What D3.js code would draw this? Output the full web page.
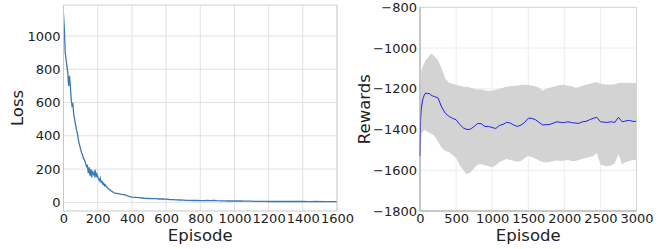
<!DOCTYPE html>
<html><head><meta charset="utf-8">
<script src="https://cdn.jsdelivr.net/npm/d3@7"></script>
<style>body{margin:0;background:#fff}svg{display:block}text{font-family:"DejaVu Sans",sans-serif;fill:#222}</style>
</head><body><svg id="c" width="667" height="249"></svg>
<script>
const lossEpisodes = [0,5,10,15,20,25,30,35,40,45,50,55,60,65,70,75,80,85,90,95,100,105,110,115,120,125,130,135,140,145,150,155,160,165,170,175,180,185,190,195,200,205,210,215,220,225,230,235,240,245,250,255,260,265,270,275,280,285,290,295,300,
 320,340,360,380,400,420,440,460,480,500,520,540,560,580,600,620,640,660,680,700,720,740,760,780,800,820,840,860,880,900,920,940,960,980,1000,1020,1040,1060,1080,1100,1120,1140,1160,1180,1200,1240,1280,1320,1360,1400,1440,1480,1520,1560,1600];
const lossValues = [1130,1040,900,860,820,780,700,760,700,620,580,590,530,500,470,440,420,390,360,340,320,300,290,270,260,250,230,215,220,175,210,160,200,150,190,170,160,195,150,170,155,140,130,145,120,125,110,115,100,105,95,90,85,80,75,72,68,64,62,58,55,
 52,48,45,38,32,30,28,26,24,23,22,22,20,20,19,17,16,15,14,13,12,12,11,11,10,10,11,10,12,10,9,9,8,8,8,8,9,7,7,7,6,6,6,6,5,5,6,5,5,5,4,5,4,4,4];
const lossXTicks = [0,200,400,600,800,1000,1200,1400,1600];
const lossYTicks = [0,200,400,600,800,1000];

const rewardEpisodes = [0,5,10,20,40,60,80,100,125,150,175,200,250,300,350,400,450,500,550,600,650,700,750,800,850,900,950,1000,1050,1100,1150,1200,1250,1300,1350,1400,1450,1500,1550,1600,1650,1700,1750,1800,1850,1900,1950,2000,2050,2100,2150,2200,2250,2300,2350,2400,2450,2500,2550,2600,2650,2700,2750,2800,2850,2900,2950,3000];
const rewardMean = [-1530,-1420,-1340,-1290,-1250,-1230,-1220,-1225,-1222,-1230,-1235,-1238,-1245,-1290,-1320,-1335,-1345,-1352,-1375,-1392,-1400,-1398,-1385,-1370,-1372,-1385,-1385,-1390,-1395,-1380,-1375,-1365,-1368,-1378,-1385,-1378,-1365,-1345,-1345,-1352,-1365,-1378,-1376,-1375,-1368,-1362,-1365,-1366,-1362,-1366,-1368,-1370,-1362,-1360,-1352,-1345,-1340,-1362,-1364,-1365,-1362,-1365,-1340,-1362,-1358,-1355,-1360,-1360];
const rewardUpper = [-1700,-1400,-1200,-1110,-1090,-1075,-1060,-1050,-1040,-1028,-1032,-1040,-1060,-1100,-1150,-1170,-1175,-1180,-1185,-1190,-1190,-1195,-1200,-1205,-1202,-1208,-1210,-1210,-1205,-1200,-1195,-1190,-1188,-1185,-1185,-1180,-1180,-1182,-1185,-1188,-1195,-1210,-1200,-1195,-1190,-1185,-1182,-1180,-1185,-1188,-1195,-1192,-1185,-1180,-1175,-1170,-1168,-1175,-1178,-1180,-1180,-1178,-1172,-1170,-1172,-1170,-1172,-1170];
const rewardLower = [-1800,-1650,-1500,-1420,-1410,-1400,-1405,-1410,-1415,-1420,-1425,-1430,-1460,-1490,-1505,-1510,-1525,-1540,-1575,-1600,-1620,-1610,-1590,-1572,-1570,-1575,-1580,-1585,-1575,-1560,-1552,-1545,-1550,-1555,-1558,-1555,-1540,-1530,-1535,-1542,-1552,-1560,-1562,-1560,-1555,-1552,-1555,-1552,-1550,-1555,-1555,-1550,-1545,-1540,-1535,-1530,-1515,-1570,-1578,-1580,-1575,-1565,-1520,-1570,-1560,-1555,-1550,-1550];
const rewardXTicks = [0,500,1000,1500,2000,2500,3000];
const rewardYTicks = [-1800,-1600,-1400,-1200,-1000,-800];

const svg = d3.select("#c");
const fmt = d3.format("");

function panel(o){
  const g = svg.append("g");
  const x = d3.scaleLinear().domain(o.xd).range([o.l, o.r]);
  const y = d3.scaleLinear().domain(o.yd).range([o.b, o.t]);
  g.selectAll(".gx").data(o.xt).join("line").attr("x1",d=>x(d)).attr("x2",d=>x(d)).attr("y1",o.t).attr("y2",o.b)
    .attr("stroke",o.grid).attr("stroke-width",1);
  g.selectAll(".gy").data(o.yt).join("line").attr("y1",d=>y(d)).attr("y2",d=>y(d)).attr("x1",o.l).attr("x2",o.r)
    .attr("stroke",o.grid).attr("stroke-width",1);
  o.draw(g,x,y);
  g.append("line").attr("x1",o.l).attr("x2",o.r).attr("y1",o.t).attr("y2",o.t).attr("stroke",o.spineLight);
  g.append("line").attr("x1",o.r).attr("x2",o.r).attr("y1",o.t).attr("y2",o.b).attr("stroke",o.spineLight);
  g.append("line").attr("x1",o.l).attr("x2",o.l).attr("y1",o.t).attr("y2",o.b).attr("stroke",o.spine);
  g.append("line").attr("x1",o.l).attr("x2",o.r).attr("y1",o.b).attr("y2",o.b).attr("stroke",o.spine);
  const ax = d3.axisBottom(x).tickValues(o.xt).tickSize(0).tickPadding(3).tickFormat(fmt);
  const ay = d3.axisLeft(y).tickValues(o.yt).tickSize(0).tickPadding(3).tickFormat(d3.format(""));
  const gx = g.append("g").attr("transform",`translate(0,${o.b})`).call(ax);
  const gy = g.append("g").attr("transform",`translate(${o.l},0)`).call(ay);
  [gx,gy].forEach(a=>{a.select(".domain").remove(); a.selectAll("text").attr("font-size","13px").attr("font-family","DejaVu Sans").attr("fill","#222");});
  gx.selectAll("text").attr("dy","0.72em");
  g.append("text").attr("x",(o.l+o.r)/2).attr("y",241).attr("text-anchor","middle").attr("font-size","16.5px").text(o.xl);
  g.append("text").attr("transform",`translate(${o.ylx},${(o.t+o.b)/2}) rotate(-90)`).attr("text-anchor","middle").attr("font-size","16.5px").text(o.yl);
}

panel({l:63.5,r:337,t:5,b:211,xd:[0,1600],yd:[-52,1186],xt:lossXTicks,yt:lossYTicks,grid:"#e0e0e0",spine:"#c8c8c8",spineLight:"#d0d0d0",
  xl:"Episode",yl:"Loss",ylx:23,
  draw:(g,x,y)=>{
    const line = d3.line().x((d,i)=>x(lossEpisodes[i])).y(d=>y(d));
    g.append("path").datum(lossValues).attr("d",line).attr("fill","none").attr("stroke","#3b78b5").attr("stroke-width",1.3);
  }});

panel({l:420,r:636.5,t:7.3,b:211,xd:[0,3000],yd:[-1800,-800],xt:rewardXTicks,yt:rewardYTicks,grid:"#ececec",spine:"#9a9a9a",spineLight:"#d5d5d5",
  xl:"Episode",yl:"Rewards",ylx:370,
  draw:(g,x,y)=>{
    const area = d3.area().x((d,i)=>x(rewardEpisodes[i])).y0((d,i)=>y(rewardLower[i])).y1(d=>y(d));
    g.append("path").datum(rewardUpper).attr("d",area).attr("fill","#d3d3d3");
    const line = d3.line().x((d,i)=>x(rewardEpisodes[i])).y(d=>y(d));
    g.append("path").datum(rewardMean).attr("d",line).attr("fill","none").attr("stroke","#2020f0").attr("stroke-width",1);
  }});
</script></body></html>
